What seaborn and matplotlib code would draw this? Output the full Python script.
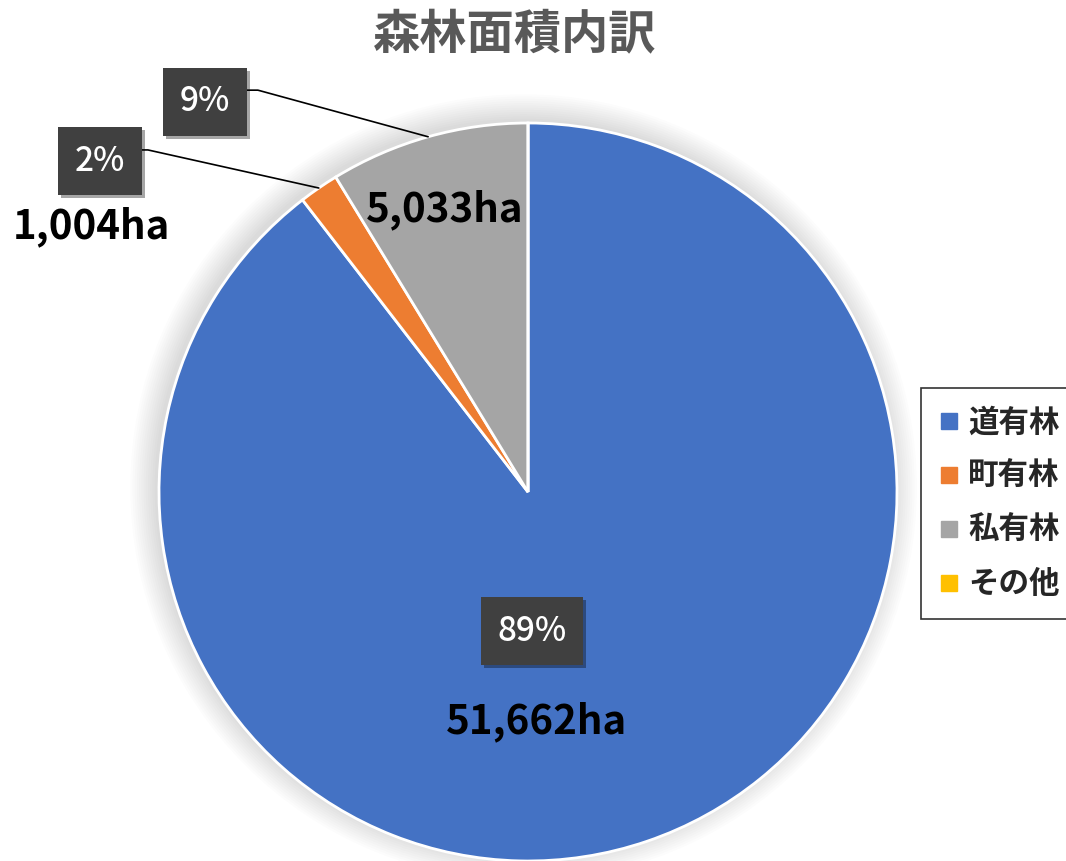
import numpy as np
import seaborn as sns
import matplotlib.pyplot as plt
from matplotlib.lines import Line2D
import matplotlib.patheffects as pe

# 森林面積内訳 (ha)
categories = ["道有林", "町有林", "私有林", "その他"]
areas = [51662, 1004, 5033, 0]
pct_labels = ["89%", "2%", "9%", ""]
colors = ["#4472C4", "#ED7D31", "#A5A5A5", "#FFC000"]

sns.set_theme(style="white")
plt.rcParams["font.family"] = ["Noto Sans CJK JP", "DejaVu Sans"]

fig = plt.figure(figsize=(10.66, 8.61), dpi=100)
W, H = 1066, 861
cx, cy, r = 528, 492, 369
ax = fig.add_axes([(cx - r) / W, (H - cy - r) / H, 2 * r / W, 2 * r / H])

# soft shadow around the pie
for k in range(12):
    ax.add_patch(plt.Circle((-0.012, 0.012), 1.0 + 0.006 * k, color="black",
                            alpha=0.012, zorder=0, lw=0, clip_on=False))

wedges, _ = ax.pie(areas, colors=colors, startangle=90, counterclock=False,
                   radius=1.0, wedgeprops=dict(edgecolor="white", linewidth=2))
ax.set_xlim(-1, 1)
ax.set_ylim(-1, 1)
ax.set_aspect("equal")
ax.axis("off")

box = dict(boxstyle="square,pad=0.5", facecolor="#404040", edgecolor="none")
shadow = [pe.withSimplePatchShadow(offset=(2, -2), shadow_rgbFace="black", alpha=0.35)]

# label layout (data coords): pct box, value text, leader elbow (or None)
layout = {
    0: ((0.011, -0.377), (0.022, -0.623), None),
    1: ((-1.160, 0.897), (-1.182, 0.718), (-1.030, 0.927)),
    2: ((-0.875, 1.057), (-0.225, 0.764), (-0.732, 1.089)),
}

for i, (pos_pct, pos_val, elbow) in layout.items():
    w = wedges[i]
    t = ax.text(*pos_pct, pct_labels[i], ha="center", va="center", color="white",
                fontsize=24, fontweight="medium", bbox=box, zorder=5)
    t.get_bbox_patch().set_path_effects(shadow)
    ax.text(*pos_val, f"{areas[i]:,}ha", ha="center", va="center", color="black",
            fontsize=29, fontweight="bold", zorder=5)
    if elbow is not None:
        mid = np.deg2rad((w.theta1 + w.theta2) / 2)
        ex, ey = np.cos(mid) * 1.0, np.sin(mid) * 1.0
        ax.plot([elbow[0] - 0.038, elbow[0], ex], [elbow[1], elbow[1], ey],
                color="black", lw=1.2, zorder=4, clip_on=False)

fig.text(515 / W, 1 - 35 / H, "森林面積内訳", ha="center", va="center",
         fontsize=34, fontweight="bold", color="#595959")

handles = [Line2D([], [], marker="s", linestyle="none", markersize=11.5,
                  markerfacecolor=c, markeredgecolor=c) for c in colors]
leg = fig.legend(handles, categories, loc="upper left",
                 bbox_to_anchor=(921 / W, 1 - 388 / H), frameon=True,
                 prop=dict(size=22, weight="bold"), labelspacing=0.72,
                 handlelength=0.6, handletextpad=0.35, borderpad=0.6,
                 fancybox=False, borderaxespad=0)
leg.get_frame().set_edgecolor("black")
leg.get_frame().set_linewidth(1.2)

fig.savefig("out.png", dpi=100)
